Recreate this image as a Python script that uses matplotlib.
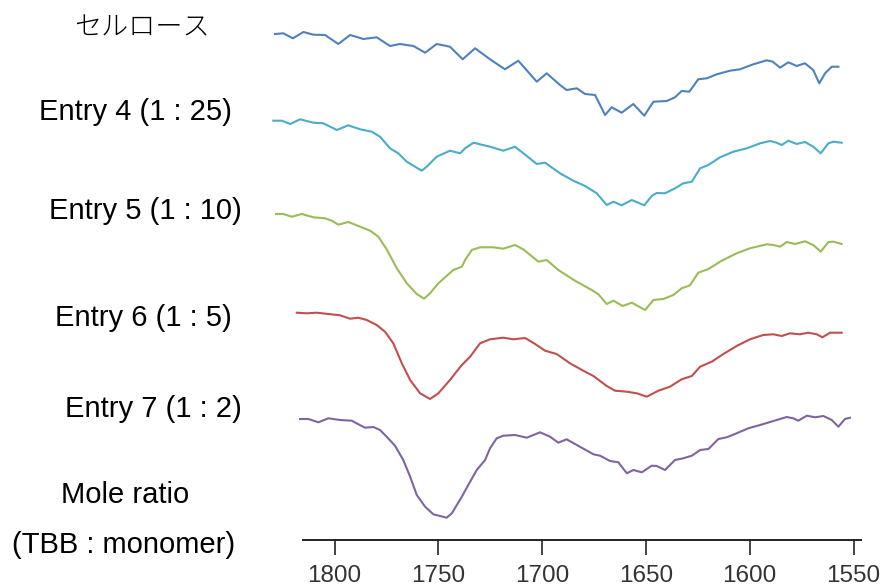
import matplotlib
matplotlib.use("Agg")
import matplotlib.pyplot as plt

# wavenumber (cm-1) / stacked signal (arb. units)
wn_cell = [1828.7, 1824.7, 1820.1, 1815.0, 1810.2, 1804.6, 1798.2, 1792.5, 1786.1, 1779.7,
           1773.3, 1768.5, 1762.0, 1756.4, 1750.8, 1744.4, 1738.3, 1732.3, 1725.1, 1717.9,
           1711.5, 1702.6, 1697.8, 1691.4, 1688.2, 1683.3, 1679.3, 1674.5, 1669.7, 1666.5,
           1661.7, 1656.1, 1650.8, 1646.4, 1640.0, 1636.0, 1632.8, 1629.1, 1624.8, 1620.7,
           1615.9, 1609.5, 1604.7, 1598.3, 1591.8, 1588.9, 1585.4, 1581.4, 1577.4, 1573.4,
           1569.4, 1566.5, 1563.7, 1560.5, 1557.3]
y_cell = [50.60, 50.67, 50.17, 50.80, 50.53, 50.50, 49.60, 50.50, 50.10, 50.27,
          49.40, 49.60, 49.40, 48.73, 49.60, 49.33, 48.07, 49.17, 48.07, 47.07,
          47.93, 45.83, 46.67, 45.50, 45.00, 45.17, 44.60, 44.50, 42.50, 43.27,
          42.73, 43.60, 42.43, 43.83, 43.90, 44.27, 44.90, 44.83, 46.07, 46.17,
          46.57, 46.93, 47.07, 47.57, 47.97, 47.83, 47.23, 47.77, 47.40, 47.67,
          47.00, 45.67, 46.67, 47.33, 47.33]

wn_e4 = [1829.5, 1825.4, 1821.4, 1816.6, 1810.2, 1805.4, 1798.9, 1793.4, 1787.7, 1782.1,
         1778.1, 1773.3, 1769.3, 1765.2, 1758.0, 1755.6, 1750.8, 1744.4, 1739.5, 1737.1,
         1733.1, 1725.1, 1718.7, 1713.1, 1707.4, 1702.6, 1698.6, 1691.4, 1685.0, 1679.3,
         1673.7, 1668.9, 1665.7, 1661.7, 1656.8, 1650.8, 1647.2, 1644.8, 1640.8, 1636.0,
         1632.0, 1627.9, 1623.9, 1619.9, 1614.3, 1607.9, 1601.4, 1595.0, 1590.2, 1587.0,
         1584.6, 1581.4, 1577.4, 1573.4, 1569.4, 1565.8, 1562.1, 1559.7, 1555.7]
y_e4 = [41.93, 41.93, 41.60, 42.07, 41.73, 41.67, 41.00, 41.47, 41.07, 40.83,
        40.33, 39.17, 38.67, 37.83, 36.93, 37.33, 38.33, 38.93, 38.67, 39.17,
        39.73, 39.33, 38.93, 39.33, 38.40, 37.60, 37.73, 36.67, 35.93, 35.40,
        34.67, 33.50, 33.83, 33.47, 34.00, 33.47, 34.40, 34.70, 34.67, 35.17,
        35.67, 35.83, 37.17, 37.50, 38.27, 38.83, 39.17, 39.67, 39.90, 39.73,
        39.50, 39.93, 39.60, 39.80, 39.33, 38.67, 39.67, 39.83, 39.73]

wn_e5 = [1828.2, 1824.7, 1820.6, 1815.8, 1810.2, 1804.6, 1801.3, 1798.2, 1793.4, 1788.5,
         1782.9, 1778.9, 1774.9, 1770.0, 1765.2, 1760.4, 1756.9, 1754.0, 1750.0, 1742.8,
         1738.7, 1737.1, 1733.9, 1729.9, 1723.5, 1718.7, 1713.1, 1709.1, 1701.8, 1697.8,
         1692.2, 1684.2, 1676.1, 1672.9, 1668.9, 1665.7, 1661.2, 1656.8, 1650.4, 1646.4,
         1641.6, 1636.8, 1632.8, 1628.8, 1624.8, 1619.9, 1613.5, 1606.3, 1599.9, 1591.8,
         1588.6, 1585.4, 1582.2, 1578.2, 1573.4, 1569.4, 1565.8, 1562.1, 1559.7, 1555.7]
y_e5 = [32.60, 32.60, 32.33, 32.60, 32.27, 32.17, 31.93, 31.53, 31.80, 31.40,
        30.93, 30.33, 29.07, 27.17, 25.67, 24.60, 24.13, 24.67, 25.67, 27.00,
        27.33, 28.00, 29.00, 29.27, 29.27, 29.13, 29.50, 29.07, 27.83, 28.00,
        27.00, 25.93, 25.00, 24.57, 23.60, 23.93, 23.40, 23.73, 23.00, 24.00,
        24.10, 24.50, 25.17, 25.47, 26.73, 27.10, 27.93, 28.67, 29.17, 29.57,
        29.50, 29.33, 29.80, 29.60, 29.87, 29.50, 28.83, 29.80, 29.83, 29.60]

wn_e6 = [1818.2, 1813.4, 1808.6, 1803.0, 1797.4, 1792.5, 1788.5, 1784.5, 1779.7, 1775.7,
         1771.7, 1767.6, 1763.6, 1758.8, 1754.0, 1750.0, 1744.4, 1738.7, 1734.7, 1729.9,
         1725.1, 1718.7, 1713.9, 1708.2, 1703.4, 1698.6, 1693.0, 1686.6, 1680.2, 1675.3,
         1668.9, 1664.9, 1659.2, 1654.4, 1649.6, 1644.0, 1638.4, 1632.8, 1627.9, 1623.9,
         1618.3, 1612.7, 1606.3, 1599.9, 1593.5, 1588.6, 1584.6, 1580.6, 1575.8, 1571.8,
         1567.7, 1565.0, 1561.3, 1555.7]
y_e6 = [22.73, 22.67, 22.73, 22.60, 22.47, 22.13, 22.23, 22.00, 21.50, 20.83,
        19.67, 17.67, 16.00, 14.67, 14.10, 14.67, 16.00, 17.50, 18.33, 19.67,
        20.07, 20.23, 20.07, 20.20, 19.60, 18.93, 18.60, 17.67, 16.93, 16.40,
        15.40, 14.93, 14.83, 14.67, 14.33, 14.93, 15.33, 16.07, 16.40, 17.33,
        17.83, 18.60, 19.40, 20.07, 20.50, 20.57, 20.40, 20.67, 20.57, 20.73,
        20.57, 20.27, 20.73, 20.73]

wn_e7 = [1816.6, 1812.6, 1807.8, 1803.0, 1797.4, 1791.7, 1788.5, 1785.3, 1781.3, 1778.1,
         1774.9, 1770.9, 1766.9, 1763.6, 1760.4, 1756.4, 1752.4, 1746.0, 1743.5, 1738.7,
         1735.6, 1731.5, 1727.5, 1725.1, 1721.9, 1718.7, 1713.1, 1707.4, 1701.0, 1696.2,
         1692.2, 1688.2, 1683.3, 1675.3, 1672.1, 1667.3, 1663.3, 1659.2, 1656.1, 1652.0,
         1647.2, 1644.8, 1640.8, 1636.0, 1632.0, 1627.9, 1623.9, 1619.9, 1615.1, 1611.1,
         1606.3, 1600.7, 1595.0, 1588.6, 1582.2, 1579.0, 1576.6, 1572.5, 1568.5, 1564.5,
         1560.5, 1557.3, 1554.1, 1551.7]
y_e7 = [12.10, 12.10, 11.77, 12.17, 12.00, 11.93, 11.57, 11.23, 11.30, 11.00,
        10.33, 9.43, 8.00, 6.33, 4.50, 3.33, 2.57, 2.23, 2.67, 4.33,
        5.50, 7.00, 8.00, 9.17, 10.17, 10.43, 10.50, 10.23, 10.77, 10.33,
        9.73, 10.07, 9.50, 8.57, 8.43, 7.90, 7.77, 6.67, 7.00, 6.77,
        7.43, 7.40, 7.00, 8.00, 8.17, 8.43, 9.00, 9.10, 10.10, 10.27,
        10.67, 11.17, 11.50, 11.90, 12.30, 12.17, 11.93, 12.43, 12.27, 12.40,
        12.00, 11.33, 12.10, 12.23]

labels = ["セルロース", "Entry 4 (1 : 25)", "Entry 5 (1 : 10)",
          "Entry 6 (1 : 5)", "Entry 7 (1 : 2)"]
axis_note = ["Mole ratio", "(TBB : monomer)"]
xticks = [1800, 1750, 1700, 1650, 1600, 1550]

spectra = [(wn_cell, y_cell), (wn_e4, y_e4), (wn_e5, y_e5), (wn_e6, y_e6), (wn_e7, y_e7)]
colors = ["#4F81BD", "#4BACC6", "#9BBB59", "#C0504D", "#8064A2"]

W, H = 881, 588
fig = plt.figure(figsize=(W / 100, H / 100), dpi=100)
ax = fig.add_axes([270 / W, 48 / H, 591 / W, 520 / H])

for (wn, y), c in zip(spectra, colors):
    ax.plot(wn, y, color=c, linewidth=1.5, solid_joinstyle="round")

ax.set_xlim(1831.1, 1546.4)
ax.set_ylim(0, 52)
for s in ("left", "right", "top"):
    ax.spines[s].set_visible(False)
ax.spines["bottom"].set_bounds(1815.2, 1546.4)
ax.spines["bottom"].set_linewidth(1.4)
ax.spines["bottom"].set_color("#222222")
ax.set_yticks([])
ax.set_xticks(xticks)
ax.set_xticklabels([str(t) for t in xticks], fontsize=17.5,
                   family="Liberation Sans", color="#333333")
ax.tick_params(axis="x", direction="out", length=11, width=1.2,
               color="#222222", pad=7)

# curve labels (pixel positions of the reference)
label_pos = [(142, 27), (135, 112), (145, 211), (143, 318), (153, 409)]
for txt, (px, py) in zip(labels, label_pos):
    fam = ["Noto Sans CJK JP", "DejaVu Sans"] if txt == labels[0] else ["Liberation Sans"]
    fs = 19.5 if txt == labels[0] else 21
    w = "light" if txt == labels[0] else "normal"
    fig.text(px / W, 1 - py / H, txt, ha="center", va="center",
             fontsize=fs, family=fam, weight=w, color="black")

for txt, (px, py) in zip(axis_note, [(125, 495), (124, 545)]):
    fig.text(px / W, 1 - py / H, txt, ha="center", va="center",
             fontsize=21, family="Liberation Sans", color="black")

fig.savefig("out.png", dpi=100)
plt.close(fig)
